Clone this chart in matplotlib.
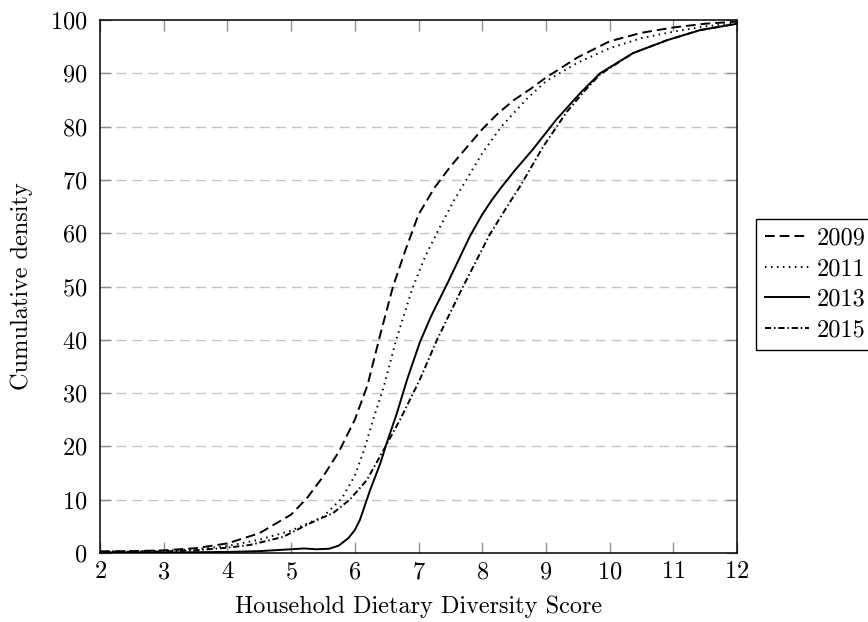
import matplotlib
matplotlib.use('Agg')
import matplotlib.pyplot as plt

# Curvas acumuladas (HDDS vs. densidad acumulada, %)
x_2009 = [2, 2.5, 3, 3.5, 4, 4.5, 5, 5.25, 5.5, 5.75, 6, 6.2, 6.4, 6.6, 6.8, 7, 7.25,
          7.5, 7.75, 8, 8.25, 8.5, 8.75, 9, 9.5, 10, 10.5, 11, 11.5, 12]
y_2009 = [0.3, 0.35, 0.5, 0.9, 1.8, 3.7, 7.2, 10.3, 14.3, 19, 25, 31.5, 41, 50, 57, 63.5, 68.5,
          72.5, 76, 79.5, 82.5, 85, 87, 89.2, 93, 96, 97.6, 98.6, 99.3, 99.7]

x_2011 = [2, 3, 3.5, 4, 4.5, 5, 5.5, 5.8, 6, 6.15, 6.3, 6.45, 6.65, 6.9, 7.1, 7.3, 7.55,
          7.75, 8, 8.3, 8.7, 9, 9.5, 10, 10.5, 11, 11.5, 12]
y_2011 = [0.3, 0.4, 0.7, 1.3, 2.5, 4.2, 6.8, 10.3, 14.5, 19.5, 25.5, 31, 40, 49.5, 55.5, 60.3, 66,
          70, 75, 80, 85.2, 88.5, 92, 94.7, 96.6, 97.8, 98.8, 99.4]

x_2013 = [2, 3, 4, 4.5, 5, 5.2, 5.4, 5.6, 5.75, 5.9, 6.0, 6.08, 6.24, 6.4, 6.5, 6.66, 6.82,
          7.02, 7.2, 7.45, 7.81, 8.0, 8.15, 8.3, 8.5, 8.8, 9.17, 9.54, 9.85, 10.37, 10.9,
          11.42, 12]
y_2013 = [0.1, 0.1, 0.2, 0.35, 0.7, 0.85, 0.7, 0.8, 1.4, 2.8, 4.3, 6.2, 11.8, 16.8, 20.6, 26.2, 32.5,
          39.5, 44.5, 50.5, 59.5, 63.5, 66.2, 68.6, 71.6, 75.8, 81.4, 86.3, 90, 93.8, 96.2,
          98.1, 99.3]

x_2015 = [2, 3, 3.5, 4, 4.35, 4.87, 5.3, 5.66, 5.92, 6.19, 6.45, 6.71, 7.02, 7.29, 7.7, 8.12,
          8.47, 8.59, 8.96, 9.33, 9.6, 9.85, 10.37, 10.9, 11.42, 12]
y_2015 = [0.2, 0.3, 0.5, 1.0, 1.5, 3.0, 5.6, 7.5, 10, 13.7, 19.3, 25, 32.5, 40, 50, 59.8,
          66.5, 68.7, 76.3, 82.8, 86.6, 89.8, 93.8, 96.2, 98.1, 99.3]

x_ticks = [2, 3, 4, 5, 6, 7, 8, 9, 10, 11, 12]
y_ticks = [0, 10, 20, 30, 40, 50, 60, 70, 80, 90, 100]

plt.rcParams['font.family'] = ['cmr10', 'DejaVu Serif']
plt.rcParams['axes.formatter.use_mathtext'] = True
plt.rcParams['lines.scale_dashes'] = False

FS = 17.5

fig = plt.figure(figsize=(8.68, 6.22), dpi=100)
ax = fig.add_axes([100 / 868, 1 - 553 / 622, 637 / 868, 533 / 622])

lw = 1.4
ax.plot(x_2009, y_2009, color='black', lw=lw, linestyle=(0, (7, 3.6)), label='2009')
ax.plot(x_2011, y_2011, color='black', lw=lw, linestyle=(0, (1.1, 3.2)), label='2011')
ax.plot(x_2013, y_2013, color='black', lw=lw, linestyle='-', label='2013')
ax.plot(x_2015, y_2015, color='black', lw=lw, linestyle=(0, (4.5, 2, 1.1, 2)), label='2015')

ax.set_xlim(2, 12)
ax.set_ylim(0, 100)
ax.set_xticks(x_ticks)
ax.set_yticks(y_ticks)

# Rejilla horizontal discontinua, sin las líneas del borde
for yv in y_ticks[1:-1]:
    ax.axhline(yv, color='#c4c4c4', lw=1.0, linestyle=(0, (7, 4.5)), zorder=0)

ax.tick_params(direction='in', length=8, width=1.0, color='#909090',
               top=True, right=True, labelsize=FS)
ax.tick_params(axis='y', pad=9)
ax.tick_params(axis='x', pad=6)
for s in ax.spines.values():
    s.set_linewidth(1.1)
    s.set_color('black')

ax.set_xlabel('Household Dietary Diversity Score', fontsize=FS, labelpad=9)
ax.set_ylabel('Cumulative density', fontsize=FS, labelpad=12)

leg = ax.legend(loc='upper left', bbox_to_anchor=(756 / 868, 1 - 219 / 622),
                bbox_transform=fig.transFigure, fontsize=FS, frameon=True,
                fancybox=False, edgecolor='black', framealpha=1,
                handlelength=1.85, handletextpad=0.3, labelspacing=0.35,
                borderpad=0.35, borderaxespad=0)
leg.get_frame().set_linewidth(1.0)

plt.savefig('out.png', dpi=100)
plt.close()
